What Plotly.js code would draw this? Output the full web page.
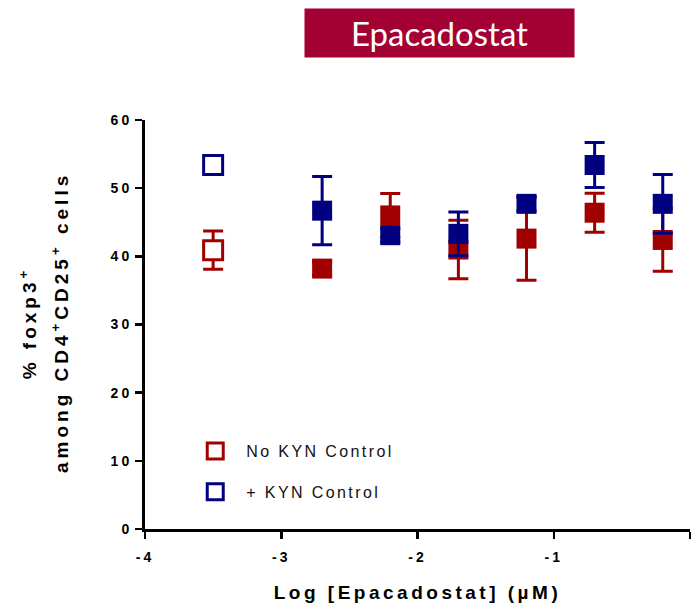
<!DOCTYPE html>
<html>
<head>
<meta charset="utf-8">
<script src="https://cdn.plot.ly/plotly-3.0.1.min.js"></script>
<style>
  html, body { margin: 0; padding: 0; background: #fff; }
  #chart { width: 695px; height: 606px; }
  .xtick text, .ytick text { letter-spacing: 3px; }
  text.xtitle { letter-spacing: 3.5px; }
  text.legendtext { letter-spacing: 2.4px; }
  .ylabel-ann text { letter-spacing: 4px; }
</style>
</head>
<body>
<div id="chart"></div>
<script>
// ---- data ----
const doses = [-2.7, -2.2, -1.7, -1.2, -0.7, -0.2];          // log10 [Epacadostat] (µM)
const noKynMean = [38.2, 46.0, 41.0, 42.6, 46.4, 42.4];
const noKynErr  = [1.0, 3.2, 4.3, 6.1, 2.85, 4.6];
const kynMean   = [46.7, 43.1, 43.3, 47.7, 53.4, 47.7];
const kynErr    = [5.0, 1.0, 3.2, 1.0, 3.3, 4.3];
const controlX  = [-3.5];
const noKynControlMean = [40.9];
const noKynControlErr  = [2.8];
const kynControlMean   = [53.4];
const xTickVals = [-4, -3, -2, -1, 0];
const xTickText = ['-4', '-3', '-2', '-1', '0'];
const yTickVals = [0, 10, 20, 30, 40, 50, 60];

const RED = '#A00000';
const BLUE = '#000080';

const traces = [
  {
    x: doses, y: noKynMean, type: 'scatter', mode: 'markers',
    name: 'No KYN', showlegend: false, legendgroup: 'a',
    marker: { symbol: 'square', size: 20, color: RED, line: { width: 0 } },
    error_y: { type: 'data', array: noKynErr, visible: true, color: RED, thickness: 3, width: 10 }
  },
  {
    x: controlX, y: noKynControlMean, type: 'scatter', mode: 'markers',
    name: 'No KYN Control', legendgroup: 'a',
    marker: { symbol: 'square', size: 19, color: '#ffffff', line: { width: 3, color: RED } },
    error_y: { type: 'data', array: noKynControlErr, visible: true, color: RED, thickness: 3, width: 10 }
  },
  {
    x: doses, y: kynMean, type: 'scatter', mode: 'markers',
    name: '+ KYN', showlegend: false, legendgroup: 'b',
    marker: { symbol: 'square', size: 20, color: BLUE, line: { width: 0 } },
    error_y: { type: 'data', array: kynErr, visible: true, color: BLUE, thickness: 3, width: 10 }
  },
  {
    x: controlX, y: kynControlMean, type: 'scatter', mode: 'markers',
    name: '+ KYN Control', legendgroup: 'b',
    marker: { symbol: 'square', size: 19, color: '#ffffff', line: { width: 3, color: BLUE } }
  }
];

const tickFont = { family: 'Liberation Sans, Arial, sans-serif', size: 14, color: '#000', weight: 'bold' };
const titleFont = { family: 'Liberation Sans, Arial, sans-serif', size: 19, color: '#000', weight: 'bold' };

const layout = {
  width: 695, height: 606,
  margin: { l: 145, r: 5, t: 120, b: 77 },
  paper_bgcolor: '#fff', plot_bgcolor: '#fff',
  showlegend: true,
  legend: {
    x: 0.072, y: 0.232, xanchor: 'left', yanchor: 'top',
    traceorder: 'grouped', tracegroupgap: 17, itemwidth: 52,
    font: { family: 'Liberation Sans, Arial, sans-serif', size: 16, color: '#111' },
    bgcolor: 'rgba(0,0,0,0)'
  },
  xaxis: {
    range: [-4, 0], tickvals: xTickVals, ticktext: xTickText,
    showline: true, linewidth: 3, linecolor: '#000',
    ticks: 'outside', ticklen: 7, tickwidth: 2.5, tickcolor: '#000',
    showgrid: false, zeroline: false, tickfont: tickFont, ticklabelstandoff: 6,
    title: { text: 'Log [Epacadostat] (µM)', font: titleFont, standoff: 22 }
  },
  yaxis: {
    range: [0, 60], tickvals: yTickVals,
    showline: true, linewidth: 3, linecolor: '#000',
    ticks: 'outside', ticklen: 7, tickwidth: 2.5, tickcolor: '#000',
    showgrid: false, zeroline: false, tickfont: tickFont
  },
  annotations: [
    {
      text: 'Epacadostat', xref: 'paper', yref: 'paper',
      x: 0.5404, y: 1.2127, xanchor: 'center', yanchor: 'middle',
      showarrow: false, bgcolor: '#A30034', borderpad: 0,
      width: 269, height: 48,
      font: { family: 'Lato, Open Sans, sans-serif', size: 33, color: '#ffffff' }
    },
    {
      text: '% foxp3<sup>+</sup>', xref: 'paper', yref: 'paper',
      x: -0.213, y: 0.505, xanchor: 'center', yanchor: 'middle',
      textangle: -90, showarrow: false, font: titleFont
    },
    {
      text: 'among CD4<sup>+</sup>CD25<sup>+</sup> cells', xref: 'paper', yref: 'paper',
      x: -0.155, y: 0.505, xanchor: 'center', yanchor: 'middle',
      textangle: -90, showarrow: false, font: titleFont
    }
  ]
};

Plotly.newPlot('chart', traces, layout, { displayModeBar: false, staticPlot: true }).then(function () {
  // letter spacing for the rotated y-axis label annotations
  document.querySelectorAll('.annotation').forEach(function (g, i) {
    if (i > 0) g.classList.add('ylabel-ann');
  });
});
</script>
</body>
</html>
